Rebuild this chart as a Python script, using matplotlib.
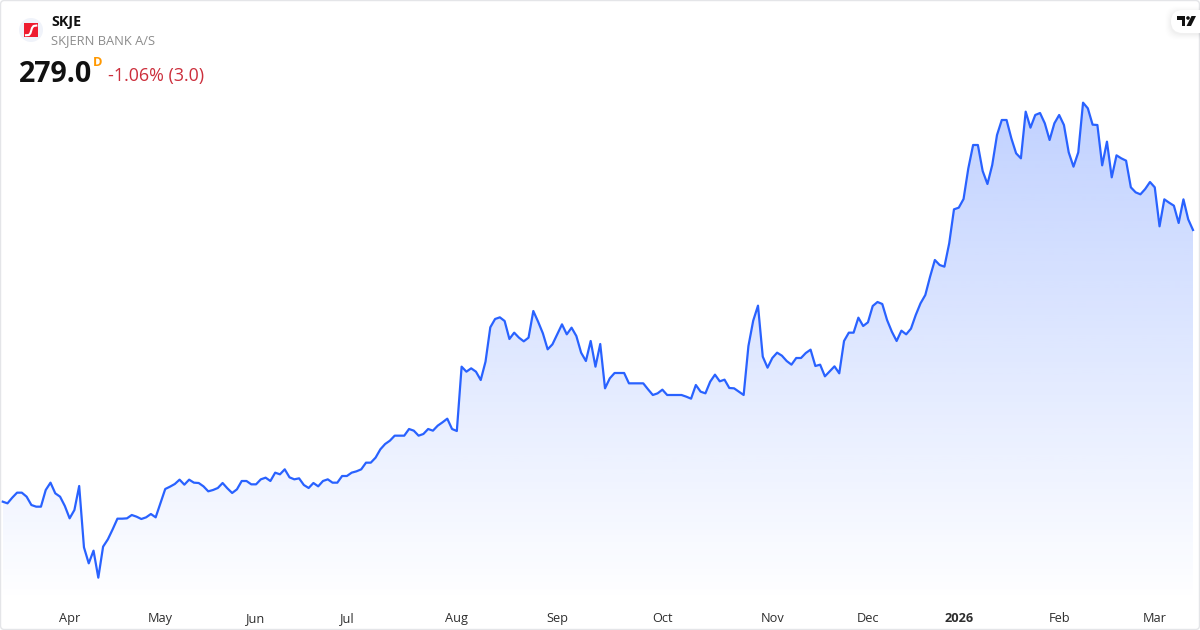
import numpy as np
import matplotlib
matplotlib.use("Agg")
import matplotlib.pyplot as plt
from matplotlib.patches import Circle, FancyBboxPatch, Polygon, Rectangle

# cours de cloture
prices = [
    197.5, 197, 198.7, 200.2, 200.2, 199, 196.5, 196, 196, 201, 203.2, 200, 199, 196.2, 192.5, 195,
    202.2, 183.8, 179, 182.8, 174.7, 184, 186.2, 189.2, 192.4, 192.4, 192.5, 193.5, 193, 192.3, 192.8,
    193.8, 192.8, 197, 201.3, 202, 202.8, 204.1, 202.6, 204.1, 203.2, 203.1, 202.1, 200.6, 201, 201.6,
    203.1, 201.5, 200.1, 201.2, 203.7, 203.7, 202.7, 202.7, 204.2, 204.7, 203.7, 206.2, 205.7, 207.2,
    204.8, 204.2, 204.5,
    202.5, 201.6, 203.1, 202.1, 203.7, 204.2, 203.2, 203.2, 205.2, 205.2, 206.2, 206.6, 207.2, 209.2,
    209.2, 210.7, 213.2, 214.8, 215.8, 217.3, 217.3, 217.3, 219.3, 218.8, 217.3, 217.8, 219.3, 218.8,
    220.3, 221.3, 222.4, 219.3, 218.7, 238, 236.5, 237.5, 236.5, 234, 239.5, 249.8, 252.3, 252.8,
    251.7, 246.3, 248.2, 246.7, 245.6, 246.7, 254.7, 251.5, 248, 243.2, 244.7, 247.7, 250.7, 247.7,
    249.7, 247.2, 242.2,
    239.7, 245.7, 238, 244.8, 231.5, 234.5, 236.1, 236.1, 236.1, 233, 233, 233, 233, 231.2, 229.5,
    230, 231.1, 229.5, 229.5, 229.5, 229.5, 229, 228.4, 232.5, 230.5, 230, 233.5, 235.6, 233.6, 234.1,
    231.6, 231.5, 230.5, 229.5, 244.2, 251.8, 256.3, 241, 237.7, 240.6, 242.2, 241.3, 239.7, 238.6,
    240.6, 240.6, 242.1, 243.1, 238.2, 238.6, 235.1, 236.6, 238.1, 236, 245.7, 248.2, 248.2, 252.7,
    250.2, 251.3, 256.2, 257.4,
    256.8, 252, 248.5, 245.7, 248.8, 247.7, 249.4, 253.5, 257, 259.5, 265, 270, 268.5, 268, 275, 285.2,
    285.7, 288.3, 297.5, 304.5, 304.5, 296.7, 292.8, 298.5, 307.5, 312, 312, 306.5, 302, 300.5, 314.5,
    309.7, 313.5, 314.1, 311, 306, 311, 313.5, 310.5, 302.3, 298, 302.3, 317.2, 315.5, 310.6, 310.5,
    298.4, 305.5, 294.8, 301.4, 300.5, 299.8, 291.8, 290.3, 289.7, 291.3, 293.4, 291.8, 280.1, 288.2,
    287.2, 286.3, 281.1, 288.2, 282.2, 279,
]
month_pos = [14, 33, 53, 72, 95, 116, 138, 161, 181, 200, 221, 241]
month_names = ["Apr", "May", "Jun", "Jul", "Aug", "Sep", "Oct", "Nov", "Dec", "2026", "Feb", "Mar"]

BLUE = "#2962ff"
W, H = 1200, 630
BOTTOM = 603
FONT = "Open Sans"
DARK = "#111111"

idx = np.arange(len(prices))
step = (1193 - 2.7) / (len(prices) - 1)

fig = plt.figure(figsize=(W / 100, H / 100), dpi=100, facecolor="white")

ax = fig.add_axes([0, (H - BOTTOM) / H, 1, BOTTOM / H])
ax.set_xlim(-2.7 / step, (W - 2.7) / step)
ax.set_ylim(348 - 0.3 * BOTTOM, 348)

# degrade bleu sous la courbe
alpha = np.linspace(0.30, 0.0, 256)
grad = np.zeros((256, 1, 4))
grad[:, 0, :3] = matplotlib.colors.to_rgb(BLUE)
grad[:, 0, 3] = alpha
zone = ax.fill_between(idx, prices, ax.get_ylim()[0], color="none", linewidth=0)
img = ax.imshow(grad, extent=[idx[0], idx[-1], ax.get_ylim()[0], 348 - 0.3 * 90], aspect="auto", origin="upper", zorder=1)
img.set_clip_path(zone.get_paths()[0], transform=ax.transData)
ax.set_xlim(-2.7 / step, (W - 2.7) / step)
ax.set_ylim(348 - 0.3 * BOTTOM, 348)

ax.plot(idx, prices, color=BLUE, linewidth=1.6, solid_joinstyle="round", zorder=2)

ax.set_yticks([])
ax.set_xticks(month_pos)
ax.set_xticklabels(month_names, family=FONT, fontsize=9.2, color="#2e2e2e")
ax.tick_params(axis="x", length=0, pad=6.2)
ax.get_xticklabels()[9].set_fontweight("bold")
for s in ax.spines.values():
    s.set_visible(False)

# en-tete, logos et cadre en pixels
top = fig.add_axes([0, 0, 1, 1], facecolor="none")
top.set_xlim(0, W)
top.set_ylim(H, 0)
top.axis("off")

top.add_patch(FancyBboxPatch((0.5, 0.5), W - 1, H - 1, boxstyle="round,pad=0,rounding_size=4",
                             fc="none", ec="#e4e5e8", lw=1))

top.add_patch(Circle((31, 30), 12, fc="#f0f3fa", ec="none"))
top.add_patch(Rectangle((24, 23.3), 14, 14, fc="#ee1c30", ec="none"))
top.plot([36.3, 33.5, 32, 30.5, 29, 26], [25.6, 26, 28, 33, 35, 35.2], color="white", lw=1.5)

top.text(51, 22, "SKJE", family=FONT, fontweight="bold", fontsize=10.3, color=DARK, va="center")
top.text(51, 40.5, "SKJERN BANK A/S", family=FONT, fontsize=9.25, color="#8c8c8c", va="center")
top.text(19, 74, "279.0", family=FONT, fontweight="bold", fontsize=20.6, color=DARK, va="center")
top.text(92.5, 62.5, "D", family=FONT, fontweight="bold", fontsize=9.4, color="#ff9800", va="center")
top.text(108, 76, "-1.06% (3.0)", family=FONT, fontsize=12.9, color="#cc2f3c", va="center")

# petit logo en haut a droite
for off, a in zip([6, 5, 4, 3, 2, 1], [0.005, 0.007, 0.009, 0.011, 0.013, 0.015]):
    top.add_patch(FancyBboxPatch((1171 - off, 11 - off + 1), 40 + 2 * off, 22 + 2 * off,
                                 boxstyle="round,pad=0,rounding_size=12", fc="black", ec="none", alpha=a))
top.add_patch(FancyBboxPatch((1171, 10), 40, 23, boxstyle="round,pad=0,rounding_size=11.5", fc="white", ec="none"))
top.add_patch(Polygon([(1177, 16), (1185, 16), (1185, 26), (1181.5, 26), (1181.5, 20), (1177, 20)], fc=DARK, ec="none"))
top.add_patch(Circle((1188, 18), 1.8, fc=DARK, ec="none"))
top.add_patch(Polygon([(1191.5, 16), (1196, 16), (1191, 26), (1186.5, 26)], fc=DARK, ec="none"))
top.set_xlim(0, W)
top.set_ylim(H, 0)

fig.savefig("out.png", dpi=100, facecolor="white")
